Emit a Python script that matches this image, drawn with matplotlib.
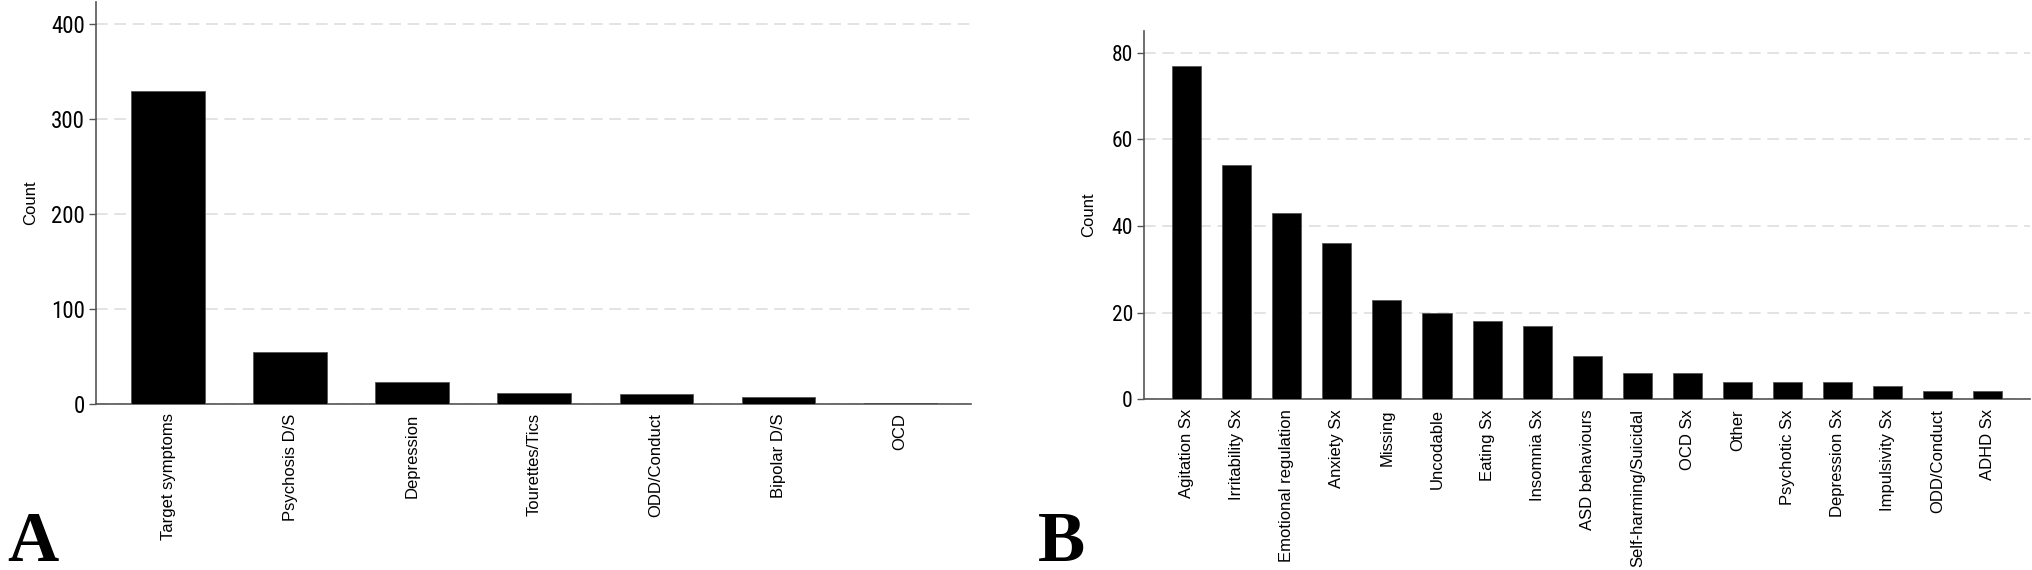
import matplotlib.pyplot as plt

# Panel A data
categories_a = ['Target symptoms', 'Psychosis D/S', 'Depression', 'Tourettes/Tics',
                'ODD/Conduct', 'Bipolar D/S', 'OCD']
counts_a = [329, 54, 23, 11, 10, 7, 1]

# Panel B data
categories_b = ['Agitation Sx', 'Irritability Sx', 'Emotional regulation', 'Anxiety Sx',
                'Missing', 'Uncodable', 'Eating Sx', 'Insomnia Sx', 'ASD behaviours',
                'Self-harming/Suicidal', 'OCD Sx', 'Other', 'Psychotic Sx',
                'Depression Sx', 'Impulsivity Sx', 'ODD/Conduct', 'ADHD Sx']
counts_b = [77, 54, 43, 36, 23, 20, 18, 17, 10, 6, 6, 4, 4, 4, 3, 2, 2]

yticks_a = [0, 100, 200, 300, 400]
yticks_b = [0, 20, 40, 60, 80]

sans = ['Liberation Sans', 'DejaVu Sans']
narrow = ['Roboto Condensed', 'DejaVu Sans']

fig = plt.figure(figsize=(20.32, 5.70), dpi=100)
ax_a = fig.add_axes([96 / 2032, 1 - 403.6 / 570, 875 / 2032, 401.8 / 570])
ax_b = fig.add_axes([1144 / 2032, 1 - 399.3 / 570, 886 / 2032, 368.4 / 570])


def style(ax, cats, vals, width, xlim, ylim, yticks, ytick_size, label_x):
    x = list(range(len(cats)))
    ax.bar(x, vals, width=width, color='black', edgecolor='#555555', linewidth=0.6, zorder=3)
    ax.set_xlim(*xlim)
    ax.set_ylim(*ylim)
    ax.set_yticks(yticks)
    ax.set_yticklabels([str(t) for t in yticks], family=narrow, fontsize=ytick_size)
    ax.set_xticks(x)
    ax.set_xticklabels(cats, rotation=90, family=sans, fontsize=12)
    ax.tick_params(axis='x', length=0, pad=7)
    ax.tick_params(axis='y', length=5, width=1, color='#555555', pad=3)
    for s in ['top', 'right']:
        ax.spines[s].set_visible(False)
    for s in ['left', 'bottom']:
        ax.spines[s].set_color('#555555')
        ax.spines[s].set_linewidth(1.2)
    ax.grid(axis='y', color='#dedede', linestyle=(0, (7, 4)), linewidth=1.2, zorder=0)
    ax.set_axisbelow(True)
    ax.set_ylabel('Count', family=sans, fontsize=12)
    ax.yaxis.set_label_coords(label_x, 0.5)


style(ax_a, categories_a, counts_a, 0.6, (-0.59, 6.58), (0, 423), yticks_a, 16.5, -0.066)
style(ax_b, categories_b, counts_b, 0.58, (-0.85, 16.84), (0, 85), yticks_b, 15.5, -0.054)

fig.text(7 / 2032, 9 / 570, 'A', family=['Liberation Serif', 'DejaVu Serif'],
         fontweight='bold', fontsize=51, ha='left', va='baseline')
fig.text(1038 / 2032, 9 / 570, 'B', family=['Liberation Serif', 'DejaVu Serif'],
         fontweight='bold', fontsize=51, ha='left', va='baseline')

fig.savefig('out.png', dpi=100)
